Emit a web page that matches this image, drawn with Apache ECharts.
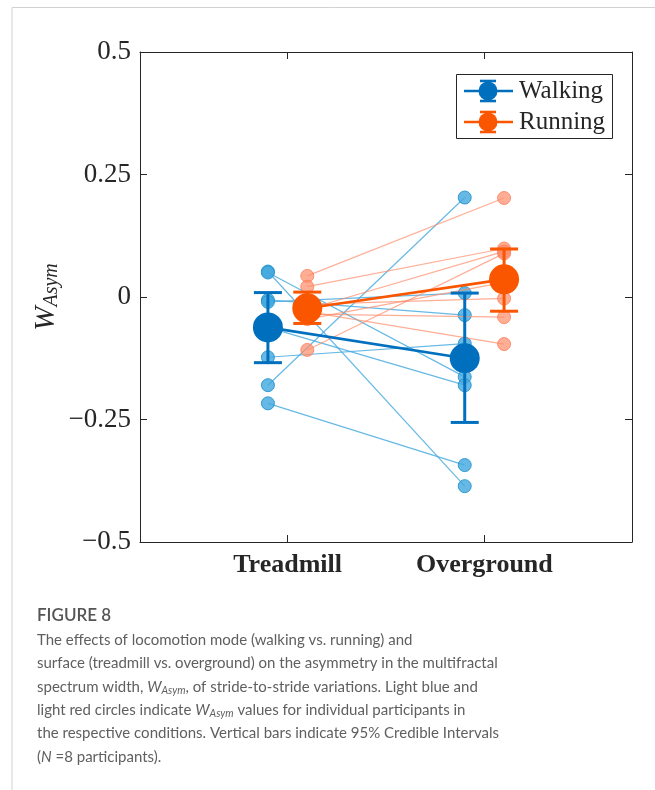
<!DOCTYPE html>
<html>
<head>
<meta charset="utf-8">
<script src="https://cdn.jsdelivr.net/npm/echarts@6/dist/echarts.min.js"></script>
<style>
  html, body { margin: 0; padding: 0; background: #ffffff; }
  #chart { width: 655px; height: 790px; }
</style>
</head>
<body>
<div id="chart"></div>
<script>
// Surface conditions and their positions on the x axis
const conditions = ['Treadmill', 'Overground'];
const conditionPos = [1, 2];
const modeOffset = 0.1; // walking drawn left of the condition, running right

// Individual participants (N = 8): W_Asym on treadmill and overground
const walkTreadmill = [0.052, 0.050, -0.006, -0.010, -0.062, -0.123, -0.180, -0.217];
const walkOverground = [-0.386, -0.163, -0.037, 0.008, -0.180, -0.095, 0.203, -0.343];
const runTreadmill = [0.043, 0.021, -0.108, -0.025, -0.015, -0.035, -0.030, -0.045];
const runOverground = [0.202, 0.099, 0.089, 0.093, -0.003, -0.041, -0.096, 0.030];

// Group estimates with 95% credible intervals [treadmill, overground]
const walkMean = [-0.062, -0.125];
const walkLow = [-0.134, -0.256];
const walkHigh = [0.009, 0.008];
const runMean = [-0.023, 0.036];
const runLow = [-0.054, -0.029];
const runHigh = [0.010, 0.098];

// Y axis ticks
const yTicks = [-0.5, -0.25, 0, 0.25, 0.5];

const WALK = '#0070BE';
const RUN = '#FA5600';
const WALK_LIGHT = 'rgba(65,168,222,0.8)';
const WALK_LIGHT_EDGE = 'rgba(35,148,205,0.9)';
const RUN_LIGHT = 'rgba(255,140,105,0.7)';
const RUN_LIGHT_EDGE = 'rgba(250,125,90,0.8)';
const INK = '#262626';
const SERIF = '"Liberation Serif", "Times New Roman", serif';
const SANS = 'Lato, "Noto Sans", sans-serif';

function fmtTick(v) {
  if (v === 0) return '0';
  const s = String(Math.abs(v));
  return v < 0 ? '\u2212' + s : s;
}

function participantSeries(tread, over, offset, color, edge, z) {
  return tread.map((t, i) => ({
    type: 'line',
    z: z,
    silent: true,
    data: [[conditionPos[0] + offset, t], [conditionPos[1] + offset, over[i]]],
    symbol: 'circle',
    symbolSize: 13,
    lineStyle: { color: color, width: 1.2 },
    itemStyle: { color: color, borderColor: edge, borderWidth: 1 },
    animation: false
  }));
}

function errorBarSeries(low, high, offset, color, z) {
  return {
    type: 'custom',
    z: z,
    silent: true,
    animation: false,
    data: low.map((l, i) => [conditionPos[i] + offset, l, high[i]]),
    renderItem: function (params, api) {
      const x = api.value(0);
      const pLow = api.coord([x, api.value(1)]);
      const pHigh = api.coord([x, api.value(2)]);
      const half = 14;
      const style = { stroke: color, lineWidth: 3 };
      return {
        type: 'group',
        children: [
          { type: 'line', shape: { x1: pLow[0], y1: pLow[1], x2: pHigh[0], y2: pHigh[1] }, style: style },
          { type: 'line', shape: { x1: pLow[0] - half, y1: pLow[1], x2: pLow[0] + half, y2: pLow[1] }, style: style },
          { type: 'line', shape: { x1: pHigh[0] - half, y1: pHigh[1], x2: pHigh[0] + half, y2: pHigh[1] }, style: style }
        ]
      };
    }
  };
}

function meanSeries(mean, offset, color, z) {
  return {
    type: 'line',
    z: z,
    silent: true,
    animation: false,
    data: mean.map((m, i) => [conditionPos[i] + offset, m]),
    symbol: 'circle',
    symbolSize: 30,
    lineStyle: { color: color, width: 2.6 },
    itemStyle: { color: color }
  };
}

const series = []
  .concat(participantSeries(walkTreadmill, walkOverground, -modeOffset, WALK_LIGHT, WALK_LIGHT_EDGE, 2))
  .concat(participantSeries(runTreadmill, runOverground, modeOffset, RUN_LIGHT, RUN_LIGHT_EDGE, 3))
  .concat([
    errorBarSeries(walkLow, walkHigh, -modeOffset, WALK, 4),
    meanSeries(walkMean, -modeOffset, WALK, 5),
    errorBarSeries(runLow, runHigh, modeOffset, RUN, 6),
    meanSeries(runMean, modeOffset, RUN, 7)
  ]);

const axisLineStyle = { show: true, onZero: false, lineStyle: { color: INK, width: 1 } };

// Legend entries (line + error bar + marker)
function legendEntry(y, color, label) {
  return [
    { type: 'line', shape: { x1: 464, y1: y, x2: 513, y2: y }, style: { stroke: color, lineWidth: 2.6 } },
    { type: 'line', shape: { x1: 488, y1: y - 10, x2: 488, y2: y + 10 }, style: { stroke: color, lineWidth: 2.6 } },
    { type: 'line', shape: { x1: 480, y1: y - 10, x2: 496, y2: y - 10 }, style: { stroke: color, lineWidth: 2.6 } },
    { type: 'line', shape: { x1: 480, y1: y + 10, x2: 496, y2: y + 10 }, style: { stroke: color, lineWidth: 2.6 } },
    { type: 'circle', shape: { cx: 488, cy: y, r: 9.5 }, style: { fill: color } },
    { type: 'text', x: 519, y: y, style: { text: label, font: '25px ' + SERIF, fill: INK, textVerticalAlign: 'middle' } }
  ];
}

const captionSize = 15;
const captionColor = '#5f5f5f';
const captionRich = {
  it: { fontFamily: SANS, fontStyle: 'italic', fontSize: captionSize, fill: captionColor },
  sub: { fontFamily: SANS, fontStyle: 'italic', fontSize: 10.5, fill: captionColor, padding: [7, 0, 0, 0] }
};
const captionLines = [
  'The effects of locomotion mode (walking vs. running) and',
  'surface (treadmill vs. overground) on the asymmetry in the multifractal',
  'spectrum width, {it|W}{sub|Asym}, of stride-to-stride variations. Light blue and',
  'light red circles indicate {it|W}{sub|Asym} values for individual participants in',
  'the respective conditions. Vertical bars indicate 95% Credible Intervals',
  '({it|N} =8 participants).'
];

const graphics = [
  { type: 'line', shape: { x1: 12, y1: 7.5, x2: 655, y2: 7.5 }, style: { stroke: '#d2d2d2', lineWidth: 1 } },
  { type: 'line', shape: { x1: 12, y1: 7.5, x2: 12, y2: 790 }, style: { stroke: '#d2d2d2', lineWidth: 1 } },
  { type: 'rect', shape: { x: 456.5, y: 74.5, width: 156, height: 64 }, style: { fill: '#ffffff', stroke: INK, lineWidth: 1 }, z: 10 },
  ...legendEntry(91, WALK, 'Walking').map(e => Object.assign(e, { z: 11 })),
  ...legendEntry(122, RUN, 'Running').map(e => Object.assign(e, { z: 11 })),
  { type: 'text', x: 37, y: 616, style: { text: 'FIGURE 8', font: '600 17px ' + SANS, fill: '#555555', textVerticalAlign: 'middle' } }
].concat(captionLines.map((t, i) => ({
  type: 'text', x: 37, y: 640 + i * 23.4,
  style: { text: t, font: captionSize + 'px ' + SANS, fill: captionColor, textVerticalAlign: 'middle', rich: captionRich }
})));

const chart = echarts.init(document.getElementById('chart'), null, { renderer: 'canvas' });
chart.setOption({
  animation: false,
  backgroundColor: '#ffffff',
  grid: { left: 140, right: 23, top: 52, bottom: 248, show: false },
  xAxis: [
    {
      type: 'value', min: 0.25, max: 2.75, position: 'bottom',
      axisLine: axisLineStyle,
      axisTick: { show: true, inside: true, length: 7, customValues: conditionPos, lineStyle: { color: INK } },
      axisLabel: {
        show: true, customValues: conditionPos, margin: 10,
        formatter: v => conditions[conditionPos.indexOf(v)] || '',
        fontFamily: SERIF, fontWeight: 'bold', fontSize: 26, color: INK
      },
      splitLine: { show: false }
    },
    {
      type: 'value', min: 0.25, max: 2.75, position: 'top',
      axisLine: axisLineStyle,
      axisTick: { show: true, inside: true, length: 7, customValues: conditionPos, lineStyle: { color: INK } },
      axisLabel: { show: false },
      splitLine: { show: false }
    }
  ],
  yAxis: [
    {
      type: 'value', min: -0.5, max: 0.5, interval: 0.25, position: 'left',
      axisLine: axisLineStyle,
      axisTick: { show: true, inside: true, length: 7, lineStyle: { color: INK } },
      axisLabel: { formatter: fmtTick, fontFamily: SERIF, fontSize: 27, color: INK, margin: 9 },
      splitLine: { show: false },
      name: '{w|W}{s|Asym}',
      nameLocation: 'middle',
      nameRotate: 90,
      nameGap: 78,
      nameMoveOverlap: false,
      nameTextStyle: {
        rich: {
          w: { fontFamily: SERIF, fontStyle: 'italic', fontSize: 29, color: INK },
          s: { fontFamily: SERIF, fontStyle: 'italic', fontSize: 20, color: INK, padding: [12, 0, 0, 0] }
        }
      }
    },
    {
      type: 'value', min: -0.5, max: 0.5, interval: 0.25, position: 'right',
      axisLine: axisLineStyle,
      axisTick: { show: true, inside: true, length: 7, lineStyle: { color: INK } },
      axisLabel: { show: false },
      splitLine: { show: false }
    }
  ],
  series: series,
  graphic: graphics
});
</script>
</body>
</html>
